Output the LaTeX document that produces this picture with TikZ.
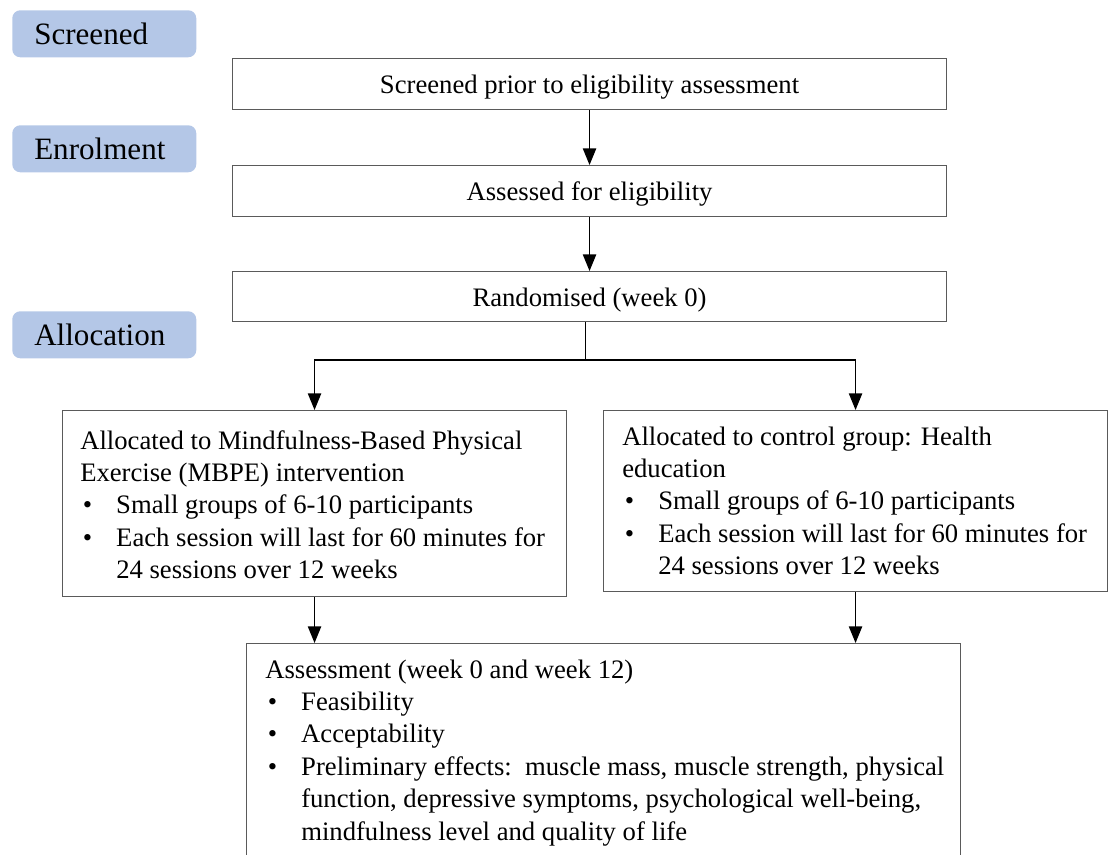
\documentclass[tikz,border=0pt]{standalone}
\usepackage{fontspec}
\setmainfont{Liberation Serif}
\usetikzlibrary{arrows.meta}
\definecolor{labfill}{HTML}{B4C7E7}
\definecolor{edgecol}{HTML}{5A5A5A}
\newcommand{\bitem}{\hspace*{2pt}\makebox[25pt][l]{•}}
\newcommand{\bcont}{\hspace*{27pt}}
\begin{document}
\begin{tikzpicture}[x=0.75pt,y=-0.75pt,
  stagelab/.style={fill=labfill, rounded corners=6pt, anchor=north west,
    inner xsep=16.5pt, inner ysep=0pt, text width=105pt, align=left,
    minimum height=35.25pt, font=\fontsize{23.3}{27}\selectfont},
  flowbox/.style={draw=edgecol, line width=0.8pt, anchor=north west, inner sep=0pt,
    font=\fontsize{20}{24.3}\selectfont},
  onetext/.style={text depth=0pt, text height=14.5pt},
  bodytxt/.style={anchor=base west, inner sep=0pt, font=\fontsize{20}{24.3}\selectfont},
  conn/.style={line width=1pt, black},
  arr/.style={conn, -{Triangle[length=12.5pt,width=10pt]}}]
\useasboundingbox (0,0) rectangle (1112,854);
\clip (0,0) rectangle (1112,854);

\node[stagelab] (s1) at (12,10) {Screened};
\node[stagelab] (s2) at (12,125) {Enrolment};
\node[stagelab] (s3) at (12,311) {Allocation};

\node[flowbox, onetext, minimum width=535.5pt, minimum height=38.25pt] (b1) at (232,58) {Screened prior to eligibility assessment};
\node[flowbox, onetext, minimum width=535.5pt, minimum height=38.25pt] (b2) at (232,165) {Assessed for eligibility};
\node[flowbox, onetext, minimum width=535.5pt, minimum height=37.5pt] (b3) at (232,271) {Randomised (week 0)};

\node[flowbox, minimum width=378pt, minimum height=139.5pt] (L) at (62,410) {};
\node[flowbox, minimum width=378pt, minimum height=135.75pt] (R) at (603,410) {};
\node[flowbox, minimum width=535.5pt, minimum height=200pt] (A) at (246,643) {};

\node[bodytxt] (Lt) at (80,449) {\parbox[t]{370pt}{%
Allocated to Mindfulness-Based Physical\\
Exercise (MBPE) intervention\\
\bitem Small groups of 6-10 participants\\
\bitem Each session will last for 60 minutes for\\
\bcont 24 sessions over 12 weeks}};

\node[bodytxt] (Rt) at (622,445) {\parbox[t]{370pt}{%
Allocated to control group: Health\\
education\\
\bitem Small groups of 6-10 participants\\
\bitem Each session will last for 60 minutes for\\
\bcont 24 sessions over 12 weeks}};

\node[bodytxt] (At) at (265,678) {\parbox[t]{530pt}{%
Assessment (week 0 and week 12)\\
\bitem Feasibility\\
\bitem Acceptability\\
\bitem Preliminary effects:\ \ muscle mass, muscle strength, physical\\
\bcont function, depressive symptoms, psychological well-being,\\
\bcont mindfulness level and quality of life}};

\draw[arr] (b1.south) -- (b2.north);
\draw[arr] (b2.south) -- (b3.north);
\coordinate (split) at ([xshift=-3pt]b3.south |- 0,360);
\draw[conn] ([xshift=-3pt]b3.south) -- (split);
\draw[arr] (split) -| (L.north);
\draw[arr] (split) -| (R.north);
\draw[arr] (L.south) -- (L.south |- A.north);
\draw[arr] (R.south) -- (R.south |- A.north);
\end{tikzpicture}
\end{document}
